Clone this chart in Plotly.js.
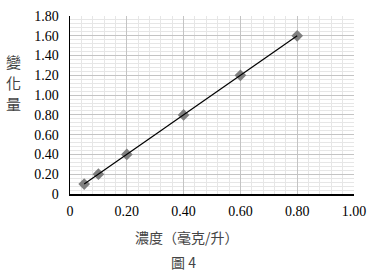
<!DOCTYPE html>
<html><head><meta charset="utf-8">
<script src="https://cdn.plot.ly/plotly-3.0.1.min.js"></script>
<style>body{margin:0;background:#fff}#c{width:384px;height:272px}</style>
</head><body><div id="c"></div>
<script>
const concentration = [0.05, 0.1, 0.2, 0.4, 0.6, 0.8];
const change = [0.10, 0.20, 0.40, 0.80, 1.20, 1.60];
const xTicks = [0, 0.2, 0.4, 0.6, 0.8, 1.0];
const xTickText = ['0', '0.20', '0.40', '0.60', '0.80', '1.00'];
const yTicks = [0, 0.2, 0.4, 0.6, 0.8, 1.0, 1.2, 1.4, 1.6, 1.8];
const yTickText = ['0', '0.20', '0.40', '0.60', '0.80', '1.00', '1.20', '1.40', '1.60', '1.80'];
const xTitle = '濃度（毫克/升）';
const yTitleChars = ['變', '化', '量'];
const caption = '圖 4';

const cjk = 'Noto Sans CJK TC';
const serif = 'Liberation Serif';
const traces = [
  {x: concentration, y: change, mode: 'markers', type: 'scatter',
   marker: {symbol: 'diamond', size: 9, color: '#7f7f7f'}, hoverinfo: 'none'},
  {x: [concentration[0], concentration[concentration.length-1]],
   y: [change[0], change[change.length-1]], mode: 'lines', type: 'scatter',
   line: {color: '#000', width: 1.2}, hoverinfo: 'none'}
];
const axisCommon = {
  showgrid: true, gridcolor: '#c4c4c4', gridwidth: 1,
  zeroline: false, showline: true, linecolor: '#000', linewidth: 1.5,
  ticks: '', tickfont: {family: serif, size: 14, color: '#000'},
  minor: {dtick: 0.04, showgrid: true, gridcolor: '#e6e6e6', gridwidth: 1},
  tickmode: 'array', fixedrange: true
};
const annotations = yTitleChars.map((ch, i) => ({
  text: ch, xref: 'paper', yref: 'paper', x: -0.2, y: 0.747 - i * 0.118,
  xanchor: 'center', yanchor: 'middle', showarrow: false,
  font: {family: cjk, size: 15, color: '#444'}
}));
annotations.push(
  {text: xTitle, xref: 'paper', yref: 'paper', x: 0.412, y: -0.242, xanchor: 'center', yanchor: 'middle',
   showarrow: false, font: {family: cjk, size: 14, color: '#444'}},
  {text: caption, xref: 'paper', yref: 'paper', x: 0.40, y: -0.382, xanchor: 'center', yanchor: 'middle',
   showarrow: false, font: {family: cjk, size: 14, color: '#444'}}
);
const layout = {
  width: 384, height: 272,
  margin: {l: 70, r: 30, t: 16, b: 78},
  paper_bgcolor: '#fff', plot_bgcolor: '#fff',
  showlegend: false,
  xaxis: Object.assign({}, axisCommon, {range: [0, 1.0], tickvals: xTicks, ticktext: xTickText, ticklabelstandoff: 4}),
  yaxis: Object.assign({}, axisCommon, {range: [0, 1.8], tickvals: yTicks, ticktext: yTickText, ticklabelstandoff: 7}),
  annotations: annotations
};
Plotly.newPlot('c', traces, layout, {displayModeBar: false, staticPlot: true});
</script></body></html>
